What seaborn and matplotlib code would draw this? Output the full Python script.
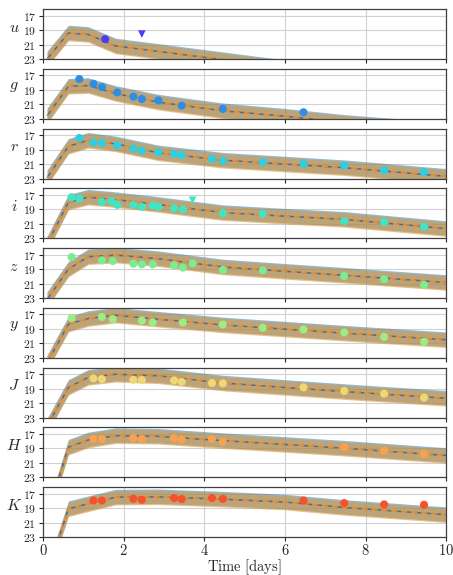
import numpy as np
import pandas as pd
import matplotlib
matplotlib.use("Agg")
import matplotlib.pyplot as plt
import seaborn as sns
from matplotlib.ticker import FuncFormatter

# bands and marker colours
bands = ["u", "g", "r", "i", "z", "y", "J", "H", "K"]
band_colors = ["#4b3cf5", "#2d8ee6", "#2ecfe0", "#3fe5c5", "#7dec8f",
               "#9bee84", "#ecd875", "#f9a152", "#f4522c"]

# model light curves (mag) on a common time grid (days)
t_model = [0.1, 0.63, 1.12, 1.8, 2.86, 4.46, 6.0, 7.47, 10.0]
model_u = [23.0, 19.4, 19.6, 21.2, 21.95, 23.1, 24.2, 25.2, 27.0]
model_g = [22.6, 18.5, 18.4, 19.5, 20.7, 21.9, 22.65, 23.5, 24.6]
model_r = [22.9, 18.54, 17.71, 18.2, 19.45, 20.47, 21.0, 21.5, 22.7]
model_i = [23.8, 18.0, 17.31, 17.65, 18.32, 19.45, 19.94, 20.38, 21.66]
model_z = [23.2, 19.0, 17.28, 17.05, 17.55, 18.7, 19.3, 19.85, 20.85]
model_y = [23.7, 18.35, 17.56, 17.1, 17.66, 18.45, 19.03, 19.59, 20.5]
model_J = [24.2, 18.82, 17.44, 17.0, 17.22, 18.22, 18.83, 19.4, 20.33]
model_H = [28.4, 18.83, 17.83, 17.23, 17.32, 17.92, 18.45, 18.97, 19.98]
model_K = [28.1, 19.08, 18.39, 17.47, 17.43, 17.75, 18.15, 18.9, 19.9]
model_width = 1.0
model_shift = 0.08

# observed photometry
obs_t_u = [1.54]
obs_m_u = [20.25]
obs_t_g = [0.90, 1.25, 1.46, 1.84, 2.24, 2.45, 2.86, 3.44, 4.46, 6.46]
obs_m_g = [17.5, 18.16, 18.6, 19.35, 19.94, 20.26, 20.45, 21.18, 21.64, 22.1]
obs_t_r = [0.90, 1.25, 1.46, 1.84, 2.24, 2.45, 2.86, 3.25, 3.44, 4.19, 4.46,
           5.45, 6.46, 7.47, 8.46, 9.45]
obs_m_r = [17.39, 17.99, 18.07, 18.4, 18.86, 19.13, 19.36, 19.59, 19.78, 20.28,
           20.55, 20.73, 20.95, 21.19, 21.87, 22.1]
obs_t_i = [0.71, 0.90, 1.46, 1.70, 1.84, 2.24, 2.45, 2.72, 2.86, 3.25, 3.47,
           4.46, 5.45, 7.47, 8.46, 9.45]
obs_m_i = [17.31, 17.5, 17.95, 17.87, 18.37, 18.37, 18.64, 18.46, 18.64, 18.83,
           19.0, 19.52, 19.6, 20.62, 20.75, 21.39]
obs_t_z = [0.71, 1.46, 1.73, 2.24, 2.45, 2.72, 3.25, 3.47, 3.71, 4.46, 5.45,
           7.47, 8.46, 9.45]
obs_m_z = [17.33, 17.78, 17.88, 18.24, 18.33, 18.33, 18.47, 18.79, 18.2, 19.12,
           19.16, 19.94, 20.4, 21.18]
obs_t_y = [0.71, 1.46, 1.73, 2.45, 2.72, 3.47, 4.46, 5.45, 6.46, 7.47, 8.46, 9.45]
obs_m_y = [17.48, 17.34, 17.66, 17.84, 18.11, 18.11, 18.39, 18.85, 19.08, 19.49,
           20.1, 20.78]
obs_t_J = [1.25, 1.46, 2.24, 2.45, 3.25, 3.44, 4.19, 4.46, 6.46, 7.47, 8.46, 9.45]
obs_m_J = [17.58, 17.67, 17.77, 17.81, 17.85, 18.05, 18.22, 18.27, 18.82, 19.32,
           19.69, 20.24]
obs_t_H = [1.25, 1.46, 2.24, 2.45, 3.25, 3.44, 4.19, 4.46, 7.47, 8.46, 9.45]
obs_m_H = [17.69, 17.69, 17.55, 17.69, 17.6, 17.78, 17.69, 18.06, 18.83, 19.3, 19.75]
obs_t_K = [1.25, 1.46, 2.24, 2.45, 3.25, 3.44, 4.19, 4.46, 6.46, 7.47, 8.46, 9.45]
obs_m_K = [17.93, 17.93, 17.7, 17.84, 17.6, 17.74, 17.6, 17.7, 17.93, 18.29,
           18.48, 18.53]

# upper limits
lim_band = ["u", "i"]
lim_t = [2.45, 3.71]
lim_m = [19.55, 17.73]

models = [model_u, model_g, model_r, model_i, model_z, model_y, model_J, model_H, model_K]
obs_t = [obs_t_u, obs_t_g, obs_t_r, obs_t_i, obs_t_z, obs_t_y, obs_t_J, obs_t_H, obs_t_K]
obs_m = [obs_m_u, obs_m_g, obs_m_r, obs_m_i, obs_m_z, obs_m_y, obs_m_J, obs_m_H, obs_m_K]

sns.set_style("whitegrid", {"axes.edgecolor": "0.25", "grid.color": "0.82",
                            "xtick.bottom": True, "ytick.left": True})
plt.rcParams["mathtext.fontset"] = "cm"
plt.rcParams["axes.linewidth"] = 0.9

fig, axes = plt.subplots(9, 1, figsize=(4.53, 5.75), dpi=100, sharex=True,
                         gridspec_kw=dict(hspace=0.2))
fig.subplots_adjust(left=0.095, right=0.985, top=0.984, bottom=0.066)

tm = np.array(t_model)
fmt = FuncFormatter(lambda v, p: f"${v:.0f}$")
for k, ax in enumerate(axes):
    m = np.array(models[k])
    # two slightly offset model fits, blue and orange
    ax.fill_between(tm, m - model_shift - model_width, m - model_shift + model_width,
                    color="#1f77b4", alpha=0.5, lw=0, zorder=1)
    ax.fill_between(tm, m + model_shift - model_width, m + model_shift + model_width,
                    color="#dd9637", alpha=0.6, lw=0, zorder=1)
    ax.plot(tm, m, color="#4a6a98", lw=1.1, ls=(0, (4, 2.5)), zorder=2)
    ax.plot(tm, m, color="#f08a20", lw=1.1, ls=(2.5, (4, 2.5)), zorder=2)

    df = pd.DataFrame({"t": obs_t[k], "mag": obs_m[k]})
    sns.scatterplot(data=df, x="t", y="mag", ax=ax, color=band_colors[k],
                    s=34, edgecolor="none", zorder=3)
    for b, lt, lm in zip(lim_band, lim_t, lim_m):
        if b == bands[k]:
            ax.scatter([lt], [lm], marker="v", s=30, color=band_colors[k],
                       edgecolor="none", zorder=3)

    ax.set_xlim(0, 10)
    ax.set_ylim(23, 16.1)
    ax.set_yticks([17, 19, 21, 23])
    ax.set_xticks([0, 2, 4, 6, 8, 10])
    ax.yaxis.set_major_formatter(fmt)
    ax.xaxis.set_major_formatter(fmt)
    ax.tick_params(axis="y", labelsize=8.5, length=3, width=0.8, pad=2)
    ax.tick_params(axis="x", labelsize=10.5, length=3, width=0.8, pad=1.5)
    ax.grid(True, lw=0.8)
    ax.set_xlabel("")
    ax.set_ylabel(f"${bands[k]}$", rotation=0, fontsize=11.5, va="center", ha="center")
    ax.yaxis.set_label_coords(-0.072, 0.64)

axes[-1].set_xlabel(r"$\mathrm{Time\ [days]}$", fontsize=10.5, labelpad=-1)

fig.savefig("out.png", dpi=100)
